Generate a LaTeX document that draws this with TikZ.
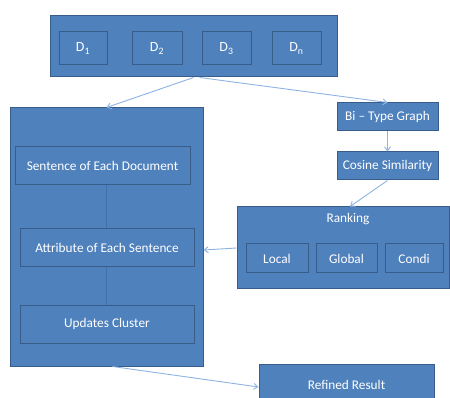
\documentclass[tikz,border=0pt]{standalone}
\usepackage{fontspec}
\setmainfont{Carlito}
\usetikzlibrary{arrows.meta}
\definecolor{boxfill}{HTML}{4F81BD}
\definecolor{boxline}{HTML}{385D8A}
\definecolor{arrowc}{HTML}{8EB4E3}
\tikzset{
  box/.style={rectangle, fill=boxfill, draw=boxline, line width=1pt, text=white, inner sep=0pt, font=\fontsize{13.3}{15}\selectfont},
  dbox/.style={box, minimum height=33pt, font=\fontsize{14}{16}\selectfont},
  conn/.style={draw=arrowc, line width=0.9pt, -{Straight Barb[length=4pt,width=6pt]}},
  faint/.style={draw=boxline!50!boxfill, line width=0.5pt}
}
\begin{document}
\begin{tikzpicture}[x=1pt,y=-1pt]
\clip (0,0) rectangle (450,398);
\fill[white] (0,0) rectangle (450,398);
% top
\node[box, minimum width=287pt, minimum height=61pt] (top) at (193.5,46.5) {};
\node[dbox, minimum width=48pt] (d1) at (83,48.5) {D\textsubscript{1}};
\node[dbox, minimum width=50pt] (d2) at (157,48.5) {D\textsubscript{2}};
\node[dbox, minimum width=49pt] (d3) at (226.5,48.5) {D\textsubscript{3}};
\node[dbox, minimum width=49pt] (dn) at (296.5,48.5) {D\textsubscript{n}};
% left
\node[box, minimum width=193pt, minimum height=258pt] (left) at (106.5,237) {};
\node[box, minimum width=175pt, minimum height=38pt] (sent) at (102.5,166) {Sentence of Each Document};
\node[box, minimum width=174pt, minimum height=38pt] (attr) at (107,248) {Attribute of Each Sentence};
\node[box, minimum width=174pt, minimum height=38pt] (upd) at (107,324) {Updates Cluster};
\draw[faint] (sent.south -| left.center) -- (attr.north -| left.center);
\draw[faint] (attr.south -| left.center) -- (upd.north -| left.center);
% right
\node[box, minimum width=101pt, minimum height=28pt] (bi) at (387.5,117) {Bi -- Type Graph};
\node[box, minimum width=101pt, minimum height=28pt] (cos) at (387.5,166) {Cosine Similarity};
\node[box, minimum width=212pt, minimum height=82pt] (rank) at (343,248) {};
\node[text=white, font=\fontsize{13.3}{15}\selectfont] (ranklab) at (348,219) {Ranking};
\node[box, minimum width=62pt, minimum height=29pt] (local) at (277,258.5) {Local};
\node[box, minimum width=61pt, minimum height=29pt] (global) at (346.5,258.5) {Global};
\node[box, minimum width=58pt, minimum height=29pt] (condi) at (414,258.5) {Condi};
\node[box, minimum width=175pt, minimum height=42pt] (ref) at (346.5,385) {Refined Result};
% connectors
\draw[conn] (top.south) -- (left.north);
\draw[conn] ([xshift=6pt]top.south) -- (bi.north);
\draw[conn] (bi.south) -- (cos.north);
\draw[conn] (cos.south) -- ([xshift=7pt]rank.north);
\draw[conn] (rank.west) -- ([yshift=-2pt]rank.west -| left.east);
\draw[conn] ([xshift=6pt]left.south) -- ([yshift=-2pt]ref.west);
\end{tikzpicture}
\end{document}
